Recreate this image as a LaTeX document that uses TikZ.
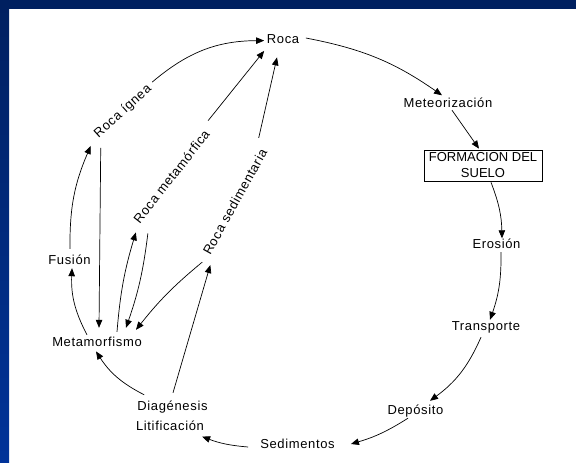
\documentclass[tikz,border=0pt]{standalone}
\usepackage{fontspec}
\usetikzlibrary{arrows.meta}
\newfontfamily\lblfont{Liberation Sans}[LetterSpace=5.0]
\newfontfamily\boxfont{Liberation Sans}
\definecolor{navy}{RGB}{0,32,96}
\definecolor{blueb}{RGB}{0,51,153}
\tikzset{
  lab/.style={font=\lblfont\fontsize{13}{16}\selectfont, inner sep=2pt,
    text height=9.5pt, text depth=2.7pt, anchor=base},
  rot/.style={font=\lblfont\fontsize{13}{16}\selectfont, inner sep=2pt,
    text height=9.5pt, text depth=2.7pt},
  arr/.style={-{Triangle[length=8pt,width=6.5pt]}, line width=0.7pt},
  boxnode/.style={draw, line width=0.7pt, font=\boxfont\fontsize{13}{16}\selectfont,
    align=center, minimum width=118pt, minimum height=31pt, inner sep=0pt}
}
\begin{document}
\begin{tikzpicture}[x=1pt,y=-1pt]
\useasboundingbox (0,0) rectangle (576,463);
\fill[white] (0,0) rectangle (576,463);
% frame
\shade[top color=navy, bottom color=blueb] (0,0) rectangle (9,463);
\fill[navy] (0,0) rectangle (576,9);

% nodes
\node[lab] (roca) at (283,43) {Roca};
\node[lab] (meteo) at (448,107) {Meteorización};
\node[boxnode] (suelo) at (483,165.5) {FORMACION DEL\\SUELO};
\node[lab] (erosion) at (496.5,248) {Erosión};
\node[lab] (transp) at (486,330) {Transporte};
\node[lab] (depos) at (415.5,414) {Depósito};
\node[lab] (sedim) at (297.5,448) {Sedimentos};
\node[lab] (diag) at (172.5,410) {Diagénesis};
\node[lab] (litif) at (170,430) {Litificación};
\node[lab] (metam) at (97,346) {Metamorfismo};
\node[lab] (fusion) at (69.5,264) {Fusión};
\node[rot, rotate=42] (rignea) at (123,111.5) {Roca ígnea};
\node[rot, rotate=52] (rmeta) at (172.5,177.5) {Roca metamórfica};
\node[rot, rotate=61] (rsed) at (236,202.5) {Roca sedimentaria};

% main cycle
\draw[arr] ([shift={(4.5,-1.6)}]roca.east) to[bend left=12] ([shift={(-6,0)}]meteo.north);
\draw[arr] ([shift={(4,-1.7)}]meteo.south) -- ([shift={(-4,-1)}]suelo.north);
\draw[arr] ([shift={(8,1)}]suelo.south) to[bend left=10] ([shift={(5.5,2)}]erosion.north);
\draw[arr] ([shift={(4.5,-0.7)}]erosion.south) to[bend left=10] ([shift={(4,1.5)}]transp.north);
\draw[arr] ([shift={(-5,2.3)}]transp.south) to[bend left=15] ([shift={(14.5,-1.5)}]depos.north);
\draw[arr] ([shift={(-7.5,-0.7)}]depos.south) to[bend left=8] ([shift={(14,-0.6)}]sedim.east);
\draw[arr] ([shift={(-10,2.4)}]sedim.west) to[bend left=8] ([shift={(-4,10)}]litif.east);
\draw[arr] ([shift={(9,-3.5)}]diag.north west) to[bend left=15] ([shift={(-1,0.5)}]metam.south);
\draw[arr] ([shift={(-10,0.5)}]metam.north) to[bend left=15] ([shift={(2.5,-0.7)}]fusion.south);
\draw[arr] ([shift={(0.5,-3.5)}]fusion.north) to[bend left=12] ([shift={(-4,9)}]rignea.west);
\draw[arr] ([shift={(1,-4)}]rignea.east) to[bend left=20] ([shift={(-0.5,1)}]roca.west);

% inner connectors
\draw[arr] ([shift={(6,11)}]rignea.west) -- ([shift={(2,-6.5)}]metam.north);
\draw[arr] ([shift={(20,-2.5)}]metam.north) to[bend left=6] ([shift={(0,8)}]rmeta.west);
\draw[arr] ([shift={(12,9)}]rmeta.west) to[bend left=6] ([shift={(29,-6.5)}]metam.north);
\draw[arr] ([shift={(-1,-10)}]rmeta.east) -- ([shift={(-0.5,3)}]roca.south west);
\draw[arr] ([shift={(-7,-11)}]rsed.east) -- ([shift={(-6,9.5)}]roca.south);
\draw[arr] ([shift={(-4,6)}]rsed.west) to[bend right=6] ([shift={(39,-4.5)}]metam.north);
\draw[arr] ([shift={(0.5,-5.5)}]diag.north) -- ([shift={(4,9)}]rsed.west);
\end{tikzpicture}
\end{document}
